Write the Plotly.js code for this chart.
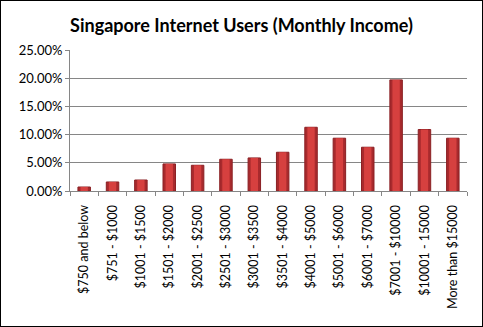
<!DOCTYPE html>
<html>
<head>
<meta charset="utf-8">
<script src="https://cdn.plot.ly/plotly-3.0.1.min.js"></script>
<style>
html,body{margin:0;padding:0;background:#fff;}
#frame{position:absolute;left:0;top:0;width:481px;height:325px;border:1px solid #000;}
#chart{width:481px;height:325px;}
</style>
</head>
<body>
<div id="frame"><div id="chart"></div></div>
<script>
const categories = ["$750 and below", "$751 - $1000", "$1001 - $1500", "$1501 - $2000", "$2001 - $2500", "$2501 - $3000", "$3001 - $3500", "$3501 - $4000", "$4001 - $5000", "$5001 - $6000", "$6001 - $7000", "$7001 - $10000", "$10001 - 15000", "More than $15000"];
const shares = [0.0071, 0.016, 0.0195, 0.048, 0.0456, 0.0563, 0.0586, 0.0687, 0.113, 0.0936, 0.0776, 0.197, 0.109, 0.0936];
const yTicks = [0, 0.05, 0.10, 0.15, 0.20, 0.25];

const base = {
  type: 'bar',
  x: categories,
  y: shares,
  width: 0.44,
  marker: {color: '#a82a2d', line: {color: '#8a2024', width: 1}},
  hoverinfo: 'none'
};
const highlight = {
  type: 'bar',
  x: categories,
  y: shares,
  width: 0.26,
  marker: {color: '#d6403f', line: {width: 0}},
  hoverinfo: 'none'
};

const layout = {
  width: 481, height: 325,
  margin: {l: 69, r: 15, t: 49, b: 135},
  paper_bgcolor: '#fff',
  plot_bgcolor: '#fff',
  barmode: 'overlay',
  showlegend: false,
  title: {
    text: 'Singapore Internet Users (Monthly Income)',
    font: {family: 'Lato', size: 18, color: '#000', weight: 'bold'},
    x: 0.5, xanchor: 'center', y: 0.925, yanchor: 'middle'
  },
  xaxis: {
    type: 'category',
    tickangle: -90,
    ticks: 'outside', tickson: 'boundaries', ticklen: 4, tickcolor: '#868686',
    showline: true, linecolor: '#868686', linewidth: 1,
    showgrid: false,
    ticklabelstandoff: 8,
    tickfont: {family: 'Lato', size: 12.5, color: '#000'},
    fixedrange: true
  },
  yaxis: {
    range: [0, 0.25],
    tickvals: yTicks,
    tickformat: '.2%',
    ticks: 'outside', ticklen: 4, tickcolor: '#868686',
    showline: true, linecolor: '#868686', linewidth: 1,
    showgrid: true, gridcolor: '#868686', gridwidth: 1,
    zeroline: false,
    tickfont: {family: 'Lato', size: 13, color: '#000'},
    fixedrange: true
  }
};

Plotly.newPlot('chart', [base, highlight], layout, {displayModeBar: false, staticPlot: true});
</script>
</body>
</html>
